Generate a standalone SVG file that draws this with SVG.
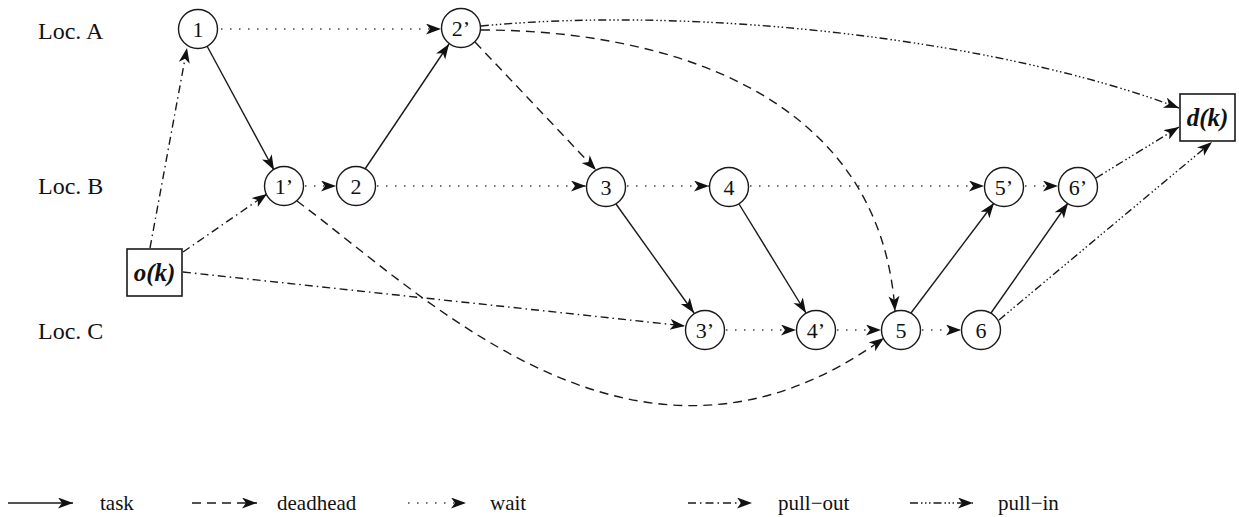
<svg xmlns="http://www.w3.org/2000/svg" width="1239" height="517" viewBox="0 0 1239 517">
<style>
.bg{fill:#ffffff}
.node circle{fill:#ffffff;stroke:#1a1a1a;stroke-width:1.4}
.node rect{fill:#ffffff;stroke:#1a1a1a;stroke-width:1.6}
.lbl{font-family:"Liberation Serif","Times New Roman",serif;font-size:22px;fill:#111;text-anchor:middle}
.ok{font-family:"Liberation Serif","Times New Roman",serif;font-size:25px;font-weight:bold;font-style:italic;fill:#111;text-anchor:middle}
.loc{font-family:"Liberation Serif","Times New Roman",serif;font-size:24px;fill:#111}
.leg{font-family:"Liberation Serif","Times New Roman",serif;font-size:21px;fill:#111}
.e{fill:none;stroke:#1a1a1a;stroke-width:1.4;marker-end:url(#ah)}
.task{}
.dead{stroke-dasharray:9 6}
.wait{stroke-dasharray:1.5 7.5;stroke:#444}
.pout{stroke-dasharray:8 4 1.5 4}
.pin{stroke-dasharray:8 3 1.5 2.5 1.5 2.5 1.5 3}
</style>
<defs>
<marker id="ah" markerUnits="userSpaceOnUse" markerWidth="17" markerHeight="13" refX="15" refY="5.5" orient="auto">
<path d="M0,0 L15,5.5 L0,11 L4,5.5 Z" fill="#111"/>
</marker>
</defs>
<rect class="bg" x="0" y="0" width="1239" height="517"/>

<g id="loc-labels">
<text class="loc" x="38" y="39">Loc. A</text>
<text class="loc" x="38" y="194">Loc. B</text>
<text class="loc" x="38" y="339">Loc. C</text>
</g>

<g id="connectors">
<!-- task -->
<line class="e task" x1="207" y1="46" x2="274" y2="170"/>
<line class="e task" x1="365" y1="169" x2="449" y2="44"/>
<line class="e task" x1="616" y1="204" x2="694" y2="313"/>
<line class="e task" x1="739" y1="204" x2="806" y2="313"/>
<line class="e task" x1="911" y1="313" x2="994" y2="203"/>
<line class="e task" x1="991" y1="313" x2="1068" y2="203"/>
<!-- wait -->
<line class="e wait" x1="221" y1="29" x2="441" y2="29"/>
<line class="e wait" x1="305" y1="186" x2="336" y2="186"/>
<line class="e wait" x1="377" y1="186" x2="586" y2="186"/>
<line class="e wait" x1="627" y1="186" x2="709" y2="186"/>
<line class="e wait" x1="750" y1="186" x2="984" y2="186"/>
<line class="e wait" x1="1025" y1="186" x2="1058" y2="186"/>
<line class="e wait" x1="726" y1="330" x2="796" y2="330"/>
<line class="e wait" x1="837" y1="330" x2="881" y2="330"/>
<line class="e wait" x1="922" y1="330" x2="961" y2="330"/>
<!-- deadhead -->
<line class="e dead" x1="475" y1="42" x2="596" y2="170"/>
<path class="e dead" d="M481,30 C660,30 880,90 895,311"/>
<path class="e dead" d="M297,201 C430,300 640,515 884,338"/>
<!-- pull-out -->
<line class="e pout" x1="150" y1="248" x2="187" y2="48"/>
<line class="e pout" x1="183" y1="252" x2="267" y2="194"/>
<line class="e pout" x1="183" y1="272" x2="685" y2="326"/>
<!-- pull-in -->
<path class="e pin" d="M481,26 C700,5 1000,40 1179,108"/>
<line class="e pin" x1="1096" y1="178" x2="1179" y2="127"/>
<line class="e pin" x1="999" y1="320" x2="1212" y2="142"/>
</g>

<g id="n1" class="node"><circle cx="198" cy="29" r="19.5"/><text class="lbl" x="198" y="37">1</text></g>
<g id="n2p" class="node"><circle cx="461" cy="28" r="19.5"/><text class="lbl" x="461" y="36">2’</text></g>
<g id="n1p" class="node"><circle cx="284" cy="186" r="19.5"/><text class="lbl" x="284" y="194">1’</text></g>
<g id="n2" class="node"><circle cx="356" cy="186" r="19.5"/><text class="lbl" x="356" y="194">2</text></g>
<g id="n3" class="node"><circle cx="606" cy="187" r="19.5"/><text class="lbl" x="606" y="195">3</text></g>
<g id="n4" class="node"><circle cx="729" cy="187" r="19.5"/><text class="lbl" x="729" y="195">4</text></g>
<g id="n5p" class="node"><circle cx="1004" cy="187" r="19.5"/><text class="lbl" x="1004" y="195">5’</text></g>
<g id="n6p" class="node"><circle cx="1078" cy="187" r="19.5"/><text class="lbl" x="1078" y="195">6’</text></g>
<g id="n3p" class="node"><circle cx="705" cy="330" r="19.5"/><text class="lbl" x="705" y="338">3’</text></g>
<g id="n4p" class="node"><circle cx="816" cy="330" r="19.5"/><text class="lbl" x="816" y="338">4’</text></g>
<g id="n5" class="node"><circle cx="901" cy="330" r="19.5"/><text class="lbl" x="901" y="338">5</text></g>
<g id="n6" class="node"><circle cx="981" cy="330" r="19.5"/><text class="lbl" x="981" y="338">6</text></g>
<g id="ok" class="node"><rect x="127" y="249" width="55" height="47"/><text class="ok" x="154.5" y="281">o(k)</text></g>
<g id="dk" class="node"><rect x="1180" y="94" width="55" height="47"/><text class="ok" x="1207.5" y="126">d(k)</text></g>

<g id="legend">
<line class="e task" x1="8" y1="503" x2="73" y2="503"/>
<text class="leg" x="100" y="510">task</text>
<line class="e dead" x1="192" y1="503" x2="257" y2="503"/>
<text class="leg" x="277" y="510">deadhead</text>
<line class="e wait" x1="408" y1="503" x2="466" y2="503"/>
<text class="leg" x="490" y="510">wait</text>
<line class="e pout" x1="688" y1="503" x2="752" y2="503"/>
<text class="leg" x="778" y="510">pull−out</text>
<line class="e pin" x1="910" y1="503" x2="973" y2="503"/>
<text class="leg" x="998" y="510">pull−in</text>
</g>
</svg>
